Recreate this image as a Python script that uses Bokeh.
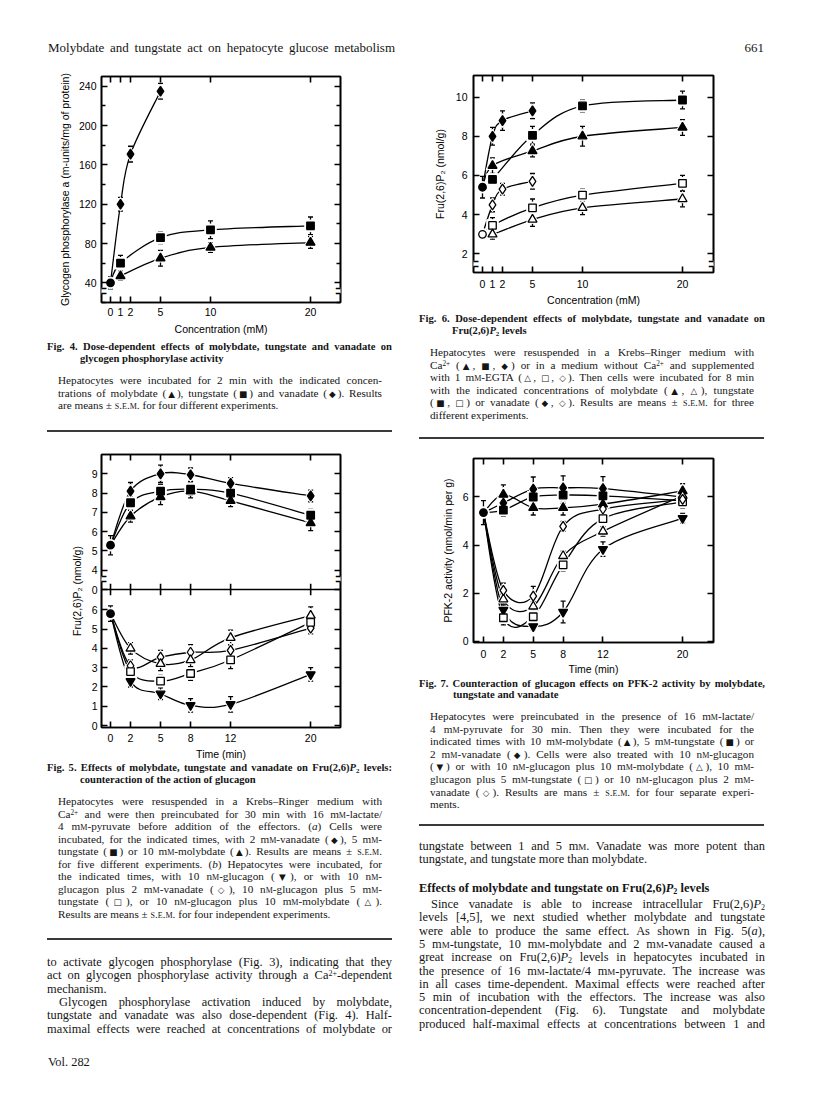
from bokeh.plotting import figure
from bokeh.models import (ColumnDataSource, Whisker, TeeHead, FixedTicker,
                          LinearAxis, Div, Label, Range1d, Span)
from bokeh.layouts import column, row
from bokeh.embed import file_html
from bokeh.resources import INLINE

# ======================= DATA =======================
# Fig. 4  glycogen phosphorylase a (m-units/mg) vs concentration (mM)
fig4_xticks = [0, 1, 2, 5, 10, 20]
fig4_yticks = [40, 80, 120, 160, 200, 240]
fig4_yminor = [20, 60, 100, 140, 180, 220]
fig4_ctrl = 40
fig4_ctrl_err = 6
fig4_van_x = [1, 2, 5]
fig4_van = [120, 171, 235]
fig4_van_err = [7, 8, 8]
fig4_x = [1, 5, 10, 20]
fig4_tung = [60, 86, 94, 98]
fig4_tung_err = [8, 6, 9, 9]
fig4_moly = [47, 65, 76, 81]
fig4_moly_err = [4, 8, 5, 6]

# Fig. 5  Fru(2,6)P2 (nmol/g) vs time (min); (a) upper panel, (b) lower panel
fig5_xticks = [0, 2, 5, 8, 12, 20]
fig5_t = [2, 5, 8, 12, 20]
fig5a_yticks = [3, 4, 5, 6, 7, 8, 9]
fig5a_ytick_labels = ["0", "4", "5", "6", "7", "8", "9"]
fig5a_ctrl = 5.3
fig5a_ctrl_err = 0.5
fig5a_van = [8.1, 9.0, 8.95, 8.5, 7.85]
fig5a_van_err = [0.45, 0.45, 0.35, 0.3, 0.3]
fig5a_tung = [7.5, 8.1, 8.2, 8.0, 6.85]
fig5a_tung_err = [0.3, 0.35, 0.3, 0.3, 0.3]
fig5a_moly = [6.8, 7.8, 8.1, 7.6, 6.45]
fig5a_moly_err = [0.3, 0.4, 0.35, 0.3, 0.4]
fig5b_yticks = [0, 1, 2, 3, 4, 5, 6]
fig5b_ctrl = 5.8
fig5b_ctrl_err = 0.4
fig5b_gluc = [2.3, 1.65, 1.05, 1.1, 2.65]
fig5b_gluc_err = [0.3, 0.3, 0.35, 0.4, 0.35]
fig5b_gvan = [3.1, 3.55, 3.8, 3.9, 5.05]
fig5b_gvan_err = [0.3, 0.35, 0.4, 0.3, 0.3]
fig5b_gtung = [2.8, 2.3, 2.7, 3.4, 5.35]
fig5b_gtung_err = [0.3, 0.3, 0.35, 0.45, 0.35]
fig5b_gmoly = [4.0, 3.2, 3.4, 4.55, 5.7]
fig5b_gmoly_err = [0.3, 0.35, 0.35, 0.4, 0.45]

# Fig. 6  Fru(2,6)P2 (nmol/g) vs concentration (mM)
fig6_xticks = [0, 1, 2, 5, 10, 20]
fig6_yticks = [2, 4, 6, 8, 10]
fig6_ctrl_ca = 5.4
fig6_ctrl_ca_err = 0.55
fig6_ctrl_egta = 3.0
fig6_ctrl_egta_err = 0.2
fig6_van_x = [1, 2, 5]
fig6_x = [1, 5, 10, 20]
fig6_van_ca = [8.0, 8.8, 9.3]
fig6_van_ca_err = [0.45, 0.5, 0.4]
fig6_tung_ca = [5.8, 8.05, 9.55, 9.85]
fig6_tung_ca_err = [0.25, 0.45, 0.3, 0.45]
fig6_moly_ca = [6.5, 7.25, 8.0, 8.45]
fig6_moly_ca_err = [0.4, 0.3, 0.5, 0.4]
fig6_van_egta = [4.5, 5.3, 5.7]
fig6_van_egta_err = [0.35, 0.3, 0.4]
fig6_tung_egta = [3.45, 4.35, 5.0, 5.6]
fig6_tung_egta_err = [0.4, 0.45, 0.3, 0.4]
fig6_moly_egta = [3.0, 3.75, 4.35, 4.8]
fig6_moly_egta_err = [0.25, 0.35, 0.35, 0.4]

# Fig. 7  PFK-2 activity (nmol/min per g) vs time (min)
fig7_xticks = [0, 2, 5, 8, 12, 20]
fig7_yticks = [0, 2, 4, 6]
fig7_t = [2, 5, 8, 12, 20]
fig7_ctrl = 5.35
fig7_ctrl_err = 0.5
fig7_moly = [6.1, 5.55, 5.55, 5.7, 6.25]
fig7_moly_err = [0.4, 0.3, 0.3, 0.3, 0.3]
fig7_tung = [5.45, 6.0, 6.08, 6.05, 5.85]
fig7_tung_err = [0.25, 0.3, 0.35, 0.3, 0.3]
fig7_van = [5.75, 6.33, 6.38, 6.35, 6.0]
fig7_van_err = [0.3, 0.5, 0.5, 0.5, 0.3]
fig7_gluc = [1.3, 0.62, 1.22, 3.83, 5.12]
fig7_gluc_err = [0.2, 0.15, 0.45, 0.3, 0.2]
fig7_gmoly = [1.75, 1.45, 3.55, 4.57, 6.05]
fig7_gmoly_err = [0.2, 0.2, 0.2, 0.2, 0.2]
fig7_gtung = [0.98, 1.02, 3.18, 5.1, 5.8]
fig7_gtung_err = [0.3, 0.15, 0.25, 0.2, 0.2]
fig7_gvan = [2.12, 1.88, 4.78, 5.5, 5.9]
fig7_gvan_err = [0.3, 0.4, 0.2, 0.2, 0.2]

# ======================= HELPERS =======================
AX_FONT = "Liberation Sans"
LW = 1.3
PENDING = {}


def make_fig(w, h, xr, yr, left, right, top, bottom):
    p = figure(width=w, height=h, x_range=Range1d(*xr), y_range=Range1d(*yr),
               output_backend="svg", toolbar_location=None,
               min_border_left=left, min_border_right=right,
               min_border_top=top, min_border_bottom=bottom)
    p.grid.visible = False
    p.outline_line_color = "black"
    p.outline_line_width = 1.6
    p.background_fill_color = "white"
    p.border_fill_color = "white"
    PENDING[id(p)] = []
    return p


def style_axis(ax, ticks, minor=None, labels=True, standoff=5):
    ax.ticker = FixedTicker(ticks=ticks, minor_ticks=minor or [])
    ax.axis_line_color = "black"
    ax.axis_line_width = 1.6
    ax.major_tick_in = 6
    ax.major_tick_out = 0
    ax.major_tick_line_width = 1.6
    ax.minor_tick_in = 4 if minor else 0
    ax.minor_tick_out = 0
    ax.minor_tick_line_width = 1.3
    ax.major_label_text_font = AX_FONT
    ax.major_label_text_font_size = "10.5px"
    if labels:
        ax.major_label_text_color = "black"
        ax.major_label_standoff = standoff
    else:
        ax.major_label_text_color = None
        ax.major_label_standoff = 0
    ax.axis_label_text_font = AX_FONT
    ax.axis_label_text_font_style = "normal"
    ax.axis_label_text_font_size = "10.5px"
    ax.axis_label_text_color = "black"


def frame_axes(p, xticks, yticks, yminor=None, xstand=6, ystand=5,
               xlabel=None, ylabel=None, xlstand=3, ylstand=5):
    bottom = p.below[0]
    left = p.left[0]
    style_axis(bottom, xticks, standoff=xstand)
    style_axis(left, yticks, minor=yminor, standoff=ystand)
    if xlabel:
        bottom.axis_label = xlabel
        bottom.axis_label_standoff = xlstand
    if ylabel:
        left.axis_label = ylabel
        left.axis_label_standoff = ylstand
    ax = LinearAxis()
    style_axis(ax, xticks, labels=False)
    p.add_layout(ax, "above")
    ax = LinearAxis()
    style_axis(ax, yticks, minor=yminor, labels=False)
    p.add_layout(ax, "right")
    return bottom, left


def smooth_line(p, xs, ys, yr="default"):
    n = len(xs)
    d = dict(x0=[], y0=[], x1=[], y1=[], cx0=[], cy0=[], cx1=[], cy1=[])
    for i in range(n - 1):
        a = max(i - 1, 0)
        b = min(i + 2, n - 1)
        d["x0"].append(xs[i]); d["y0"].append(ys[i])
        d["x1"].append(xs[i + 1]); d["y1"].append(ys[i + 1])
        d["cx0"].append(xs[i] + (xs[i + 1] - xs[a]) / 6.0)
        d["cy0"].append(ys[i] + (ys[i + 1] - ys[a]) / 6.0)
        d["cx1"].append(xs[i + 1] - (xs[b] - xs[i]) / 6.0)
        d["cy1"].append(ys[i + 1] - (ys[b] - ys[i]) / 6.0)
    p.bezier(x0="x0", y0="y0", x1="x1", y1="y1", cx0="cx0", cy0="cy0",
             cx1="cx1", cy1="cy1", source=ColumnDataSource(d),
             line_color="black", line_width=LW, level="underlay",
             y_range_name=yr)


def points(p, xs, ys, errs, marker, filled, size, yr="default"):
    src = ColumnDataSource(dict(x=list(xs), y=list(ys),
                                up=[y + e for y, e in zip(ys, errs)],
                                lo=[y - e for y, e in zip(ys, errs)]))
    p.add_layout(Whisker(source=src, base="x", upper="up", lower="lo",
                         dimension="height", line_color="black", line_width=LW,
                         y_range_name=yr,
                         upper_head=TeeHead(size=5, line_width=LW),
                         lower_head=TeeHead(size=5, line_width=LW)))
    PENDING[id(p)].append((src, marker, filled, size, yr))


def finish(p):
    # white halos first (curves stop just short of the symbols), then all symbols
    for src, marker, filled, size, yr in PENDING[id(p)]:
        p.scatter("x", "y", source=src, marker=marker, size=size + 4,
                  fill_color="white", line_color="white", y_range_name=yr)
    for src, marker, filled, size, yr in PENDING[id(p)]:
        p.scatter("x", "y", source=src, marker=marker, size=size,
                  fill_color="black" if filled else "white",
                  line_color="black", line_width=LW, y_range_name=yr)


def series(p, cx, cy, xs, ys, errs, marker, filled, size, yr="default"):
    smooth_line(p, [cx] + list(xs), [cy] + list(ys), yr)
    points(p, xs, ys, errs, marker, filled, size, yr)


def break_mark(p, x, y, yr="default"):
    p.add_layout(Label(x=x, y=y, text="M", text_font_size="5px", y_range_name=yr,
                       text_color="white", background_fill_color="white",
                       text_align="center", text_baseline="middle"))
    p.add_layout(Label(x=x, y=y, text="=", text_font=AX_FONT, y_range_name=yr,
                       text_font_size="20px", text_color="black",
                       text_align="center", text_baseline="middle"))


MS = dict(triangle=9, square=7.5, diamond=10, inverted_triangle=9, circle=7.5)

# ======================= FIG. 4 =======================
p4 = make_fig(400, 273, (-0.9, 23.0), (20, 250), 101, 60, 12, 33)
frame_axes(p4, fig4_xticks, fig4_yticks, yminor=fig4_yminor, xstand=5, ystand=5,
           xlabel="Concentration (mM)", xlstand=4,
           ylabel="Glycogen phosphorylase a (m-units/mg of protein)", ylstand=5)
series(p4, 0, fig4_ctrl, fig4_van_x, fig4_van, fig4_van_err, "diamond", True, MS["diamond"])
series(p4, 0, fig4_ctrl, fig4_x, fig4_tung, fig4_tung_err, "square", True, MS["square"])
series(p4, 0, fig4_ctrl, fig4_x, fig4_moly, fig4_moly_err, "triangle", True, MS["triangle"])
points(p4, [0], [fig4_ctrl], [fig4_ctrl_err], "circle", True, MS["circle"])
finish(p4)
break_mark(p4, -0.9, 32)
break_mark(p4, 23.0, 32)

# ======================= FIG. 5 (two panels sharing one frame) =======================
p5 = make_fig(400, 318, (-0.9, 22.98), (-0.1, 14.05), 101, 59, 10, 31)
p5.extra_y_ranges = {"up": Range1d(-4.15, 10)}
lo_r, up_r = p5.y_range, p5.extra_y_ranges["up"]


def up_pos(u):
    return round(lo_r.start + (u - up_r.start) * (lo_r.end - lo_r.start) / (up_r.end - up_r.start), 4)


fig5_tick_pos = list(fig5b_yticks) + [up_pos(u) for u in fig5a_yticks]
b5, l5 = frame_axes(p5, fig5_xticks, fig5_tick_pos, xstand=6, ystand=4,
                    xlabel="Time (min)", xlstand=3,
                    ylabel="Fru(2,6)P\u2082 (nmol/g)", ylstand=6)
l5.major_label_overrides = {up_pos(u): s for u, s in zip(fig5a_yticks, fig5a_ytick_labels)}
divider = up_pos(fig5a_yticks[0])
p5.add_layout(Span(location=divider, dimension="width", line_color="black", line_width=1.6))
p5.segment(x0=fig5_xticks, x1=fig5_xticks, y0=[divider - 0.3] * len(fig5_xticks),
           y1=[divider + 0.3] * len(fig5_xticks), line_color="black", line_width=1.6)
series(p5, 0, fig5a_ctrl, fig5_t, fig5a_van, fig5a_van_err, "diamond", True, MS["diamond"], "up")
series(p5, 0, fig5a_ctrl, fig5_t, fig5a_tung, fig5a_tung_err, "square", True, MS["square"], "up")
series(p5, 0, fig5a_ctrl, fig5_t, fig5a_moly, fig5a_moly_err, "triangle", True, MS["triangle"], "up")
points(p5, [0], [fig5a_ctrl], [fig5a_ctrl_err], "circle", True, MS["circle"], "up")
series(p5, 0, fig5b_ctrl, fig5_t, fig5b_gluc, fig5b_gluc_err, "inverted_triangle", True, MS["inverted_triangle"])
series(p5, 0, fig5b_ctrl, fig5_t, fig5b_gvan, fig5b_gvan_err, "diamond", False, MS["diamond"])
series(p5, 0, fig5b_ctrl, fig5_t, fig5b_gtung, fig5b_gtung_err, "square", False, MS["square"])
series(p5, 0, fig5b_ctrl, fig5_t, fig5b_gmoly, fig5b_gmoly_err, "triangle", False, MS["triangle"])
points(p5, [0], [fig5b_ctrl], [fig5b_ctrl_err], "circle", True, MS["circle"])
finish(p5)
break_mark(p5, -0.9, 3.55, "up")
break_mark(p5, 22.98, 3.55, "up")

# ======================= FIG. 6 =======================
p6 = make_fig(400, 244, (-0.9, 23.1), (1.05, 11.1), 73, 87, 11, 33)
frame_axes(p6, fig6_xticks, fig6_yticks, xstand=7, ystand=6,
           xlabel="Concentration (mM)", xlstand=3,
           ylabel="Fru(2,6)P\u2082 (nmol/g)", ylstand=7)
series(p6, 0, fig6_ctrl_ca, fig6_van_x, fig6_van_ca, fig6_van_ca_err, "diamond", True, MS["diamond"])
series(p6, 0, fig6_ctrl_ca, fig6_x, fig6_tung_ca, fig6_tung_ca_err, "square", True, MS["square"])
series(p6, 0, fig6_ctrl_ca, fig6_x, fig6_moly_ca, fig6_moly_ca_err, "triangle", True, MS["triangle"])
series(p6, 0, fig6_ctrl_egta, fig6_van_x, fig6_van_egta, fig6_van_egta_err, "diamond", False, MS["diamond"])
series(p6, 0, fig6_ctrl_egta, fig6_x, fig6_tung_egta, fig6_tung_egta_err, "square", False, MS["square"])
series(p6, 0, fig6_ctrl_egta, fig6_x, fig6_moly_egta, fig6_moly_egta_err, "triangle", False, MS["triangle"])
points(p6, [0], [fig6_ctrl_ca], [fig6_ctrl_ca_err], "circle", True, MS["circle"])
points(p6, [0], [fig6_ctrl_egta], [fig6_ctrl_egta_err], "circle", False, MS["circle"])
finish(p6)
break_mark(p6, -0.9, 1.5)
break_mark(p6, 23.1, 1.5)

# ======================= FIG. 7 =======================
p7 = make_fig(400, 230, (-1.0, 23.1), (-0.05, 7.6), 72, 87, 11, 32)
frame_axes(p7, fig7_xticks, fig7_yticks, xstand=7, ystand=5,
           xlabel="Time (min)", xlstand=2,
           ylabel="PFK-2 activity (nmol/min per g)", ylstand=6)
series(p7, 0, fig7_ctrl, fig7_t, fig7_moly, fig7_moly_err, "triangle", True, MS["triangle"])
series(p7, 0, fig7_ctrl, fig7_t, fig7_tung, fig7_tung_err, "square", True, MS["square"])
series(p7, 0, fig7_ctrl, fig7_t, fig7_van, fig7_van_err, "diamond", True, MS["diamond"])
series(p7, 0, fig7_ctrl, fig7_t, fig7_gluc, fig7_gluc_err, "inverted_triangle", True, MS["inverted_triangle"])
series(p7, 0, fig7_ctrl, fig7_t, fig7_gmoly, fig7_gmoly_err, "triangle", False, MS["triangle"])
series(p7, 0, fig7_ctrl, fig7_t, fig7_gtung, fig7_gtung_err, "square", False, MS["square"])
series(p7, 0, fig7_ctrl, fig7_t, fig7_gvan, fig7_gvan_err, "diamond", False, MS["diamond"])
points(p7, [0], [fig7_ctrl], [fig7_ctrl_err], "circle", True, MS["circle"])
finish(p7)

# ======================= TEXT =======================
def SC(s):
    return '<span style="font-variant:small-caps">%s</span>' % s


def SYM(code):
    return ("<span style=\"font-family:'DejaVu Sans';font-size:78%%\">&#%d;</span>" % code)


UP, SQ, DI, DN, OUP, OSQ, ODI = (SYM(9650), SYM(9632), SYM(9670), SYM(9660),
                                 SYM(9651), SYM(9633), SYM(9671))
mM = "m" + SC("m")
nM = "n" + SC("m")
SEM = SC("s.e.m.")
SUP = '<sup style="font-size:65%;line-height:0;vertical-align:0.4em">'
SUB = '<sub style="font-size:65%;line-height:0;vertical-align:-0.25em">'
CA = "Ca" + SUP + "2+</sup>"
FRU = "Fru(2,6)<i>P</i>" + SUB + "2</sub>"


def T(yc, x0, x1, html, size, align="j", bold=False, lh=12, indent=0):
    return ("t", yc, x0, x1, html, size, align, bold, lh, indent)


def HR(y, x0, x1):
    return ("hr", y, x0, x1)


def block(ox, oy, w, h, items):
    out = ['<div style="position:relative;width:%dpx;height:%dpx;'
           "font-family:'Liberation Serif','Times New Roman',serif;color:#151515;\">" % (w, h)]
    for it in items:
        if it[0] == "hr":
            _, y, x0, x1 = it
            out.append('<div style="position:absolute;left:%.1fpx;top:%.1fpx;width:%.1fpx;'
                       'height:1.4px;background:#3a3a3a"></div>' % (x0 - ox, y - oy - 0.7, x1 - x0))
        else:
            _, yc, x0, x1, html, size, align, bold, lh, indent = it
            if align == "j":
                al = "text-align:justify;text-align-last:justify;"
            elif align == "r":
                al = "text-align:right;"
            else:
                al = "text-align:left;"
            out.append('<div style="position:absolute;left:%.1fpx;top:%.1fpx;width:%.1fpx;height:%dpx;'
                       'line-height:%dpx;font-size:%.1fpx;font-weight:%s;white-space:nowrap;%s'
                       'text-indent:%dpx">%s</div>'
                       % (x0 - ox, yc - oy - lh / 2.0, x1 - x0, lh, lh, size,
                          "bold" if bold else "normal", al, indent, html))
    out.append("</div>")
    return Div(text="".join(out), width=w, height=h, margin=(0, 0, 0, 0),
               styles={"overflow": "visible"})


CAPT = 10.6   # caption title size
CAPB = 11.2   # caption body size
BODY = 12.4   # body text size

header = block(8, 8, 800, 64, [
    T(55, 56, 403, "Molybdate and tungstate act on hepatocyte glucose metabolism", 13, "j", lh=15),
    T(55, 700, 772, "661", 13, "r", lh=15),
])

cap4 = block(8, 345, 400, 107, [
    T(355, 55, 400, "Fig. 4. Dose-dependent effects of molybdate, tungstate and vanadate on", CAPT, "j", True),
    T(367, 88, 400, "glycogen phosphorylase activity", CAPT, "l", True),
    T(388, 66, 390, "Hepatocytes were incubated for 2 min with the indicated concen-", CAPB),
    T(400.5, 66, 390, "trations of molybdate (%s), tungstate (%s) and vanadate (%s). Results" % (UP, SQ, DI), CAPB),
    T(413, 66, 390, "are means &#177; %s for four different experiments." % SEM, CAPB, "l"),
    HR(439, 55, 400),
])

cap5_lines = [
    "Hepatocytes were resuspended in a Krebs&#8211;Ringer medium with",
    "%s and were then preincubated for 30 min with 16 %s-lactate/" % (CA, mM),
    "4 %s-pyruvate before addition of the effectors. (<i>a</i>) Cells were" % mM,
    "incubated, for the indicated times, with 2 %s-vanadate (%s), 5 %s-" % (mM, DI, mM),
    "tungstate (%s) or 10 %s-molybdate (%s). Results are means &#177; %s" % (SQ, mM, UP, SEM),
    "for five different experiments. (<i>b</i>) Hepatocytes were incubated, for",
    "the indicated times, with 10 %s-glucagon (%s), or with 10 %s-" % (nM, DN, nM),
    "glucagon plus 2 %s-vanadate (%s), 10 %s-glucagon plus 5 %s-" % (mM, ODI, nM, mM),
    "tungstate (%s), or 10 %s-glucagon plus 10 %s-molybdate (%s)." % (OSQ, nM, mM, OUP),
    "Results are means &#177; %s for four independent experiments." % SEM,
]
left_body = [
    ("to activate glycogen phosphorylase (Fig. 3), indicating that they", "j", 0),
    ("act on glycogen phosphorylase activity through a %s-dependent" % CA, "j", 0),
    ("mechanism.", "l", 0),
    ("Glycogen phosphorylase activation induced by molybdate,", "j", 12),
    ("tungstate and vanadate was also dose-dependent (Fig. 4). Half-", "j", 0),
    ("maximal effects were reached at concentrations of molybdate or", "j", 0),
]
items5 = [
    T(776, 55, 400, "Fig. 5. Effects of molybdate, tungstate and vanadate on %s levels:" % FRU, CAPT, "j", True),
    T(788, 88, 400, "counteraction of the action of glucagon", CAPT, "l", True),
]
for i, s in enumerate(cap5_lines):
    items5.append(T(809 + 12.5 * i, 66, 390, s, CAPB, "l" if i == len(cap5_lines) - 1 else "j"))
items5.append(HR(947, 55, 400))
for i, (s, al, ind) in enumerate(left_body):
    items5.append(T(970 + 13.3 * i, 55, 400, s, BODY, al, lh=14, indent=ind))
items5.append(T(1070, 56, 160, "Vol. 282", BODY, "l", lh=14))
cap5 = block(8, 770, 400, 323, items5)

cap6_lines = [
    "Hepatocytes were resuspended in a Krebs&#8211;Ringer medium with",
    "%s (%s, %s, %s) or in a medium without %s and supplemented" % (CA, UP, SQ, DI, CA),
    "with 1 %s-EGTA (%s, %s, %s). Then cells were incubated for 8 min" % (mM, OUP, OSQ, ODI),
    "with the indicated concentrations of molybdate (%s, %s), tungstate" % (UP, OUP),
    "(%s, %s) or vanadate (%s, %s). Results are means &#177; %s for three" % (SQ, OSQ, DI, ODI, SEM),
    "different experiments.",
]
items6 = [
    T(327, 427, 773, "Fig. 6. Dose-dependent effects of molybdate, tungstate and vanadate on", CAPT, "j", True),
    T(339, 460, 773, "%s levels" % FRU, CAPT, "l", True),
]
for i, s in enumerate(cap6_lines):
    items6.append(T(360 + 12.6 * i, 438, 762, s, CAPB, "l" if i == len(cap6_lines) - 1 else "j"))
items6.append(HR(446, 427, 772))
cap6 = block(408, 316, 400, 139, items6)

cap7_lines = [
    "Hepatocytes were preincubated in the presence of 16 %s-lactate/" % mM,
    "4 %s-pyruvate for 30 min. Then they were incubated for the" % mM,
    "indicated times with 10 %s-molybdate (%s), 5 %s-tungstate (%s) or" % (mM, UP, mM, SQ),
    "2 %s-vanadate (%s). Cells were also treated with 10 %s-glucagon" % (mM, DI, nM),
    "(%s) or with 10 %s-glucagon plus 10 %s-molybdate (%s), 10 %s-" % (DN, nM, mM, OUP, mM),
    "glucagon plus 5 %s-tungstate (%s) or 10 %s-glucagon plus 2 %s-" % (mM, OSQ, nM, mM),
    "vanadate (%s). Results are mans &#177; %s for four separate experi-" % (ODI, SEM),
    "ments.",
]
right_body_top = [
    ("tungstate between 1 and 5 %s. Vanadate was more potent than" % mM, "j", 0),
    ("tungstate, and tungstate more than molybdate.", "l", 0),
]
right_body = [
    ("Since vanadate is able to increase intracellular %s" % FRU, "j", 12),
    ("levels [4,5], we next studied whether molybdate and tungstate", "j", 0),
    ("were able to produce the same effect. As shown in Fig. 5(<i>a</i>),", "j", 0),
    ("5 %s-tungstate, 10 %s-molybdate and 2 %s-vanadate caused a" % (mM, mM, mM), "j", 0),
    ("great increase on %s levels in hepatocytes incubated in" % FRU, "j", 0),
    ("the presence of 16 %s-lactate/4 %s-pyruvate. The increase was" % (mM, mM), "j", 0),
    ("in all cases time-dependent. Maximal effects were reached after", "j", 0),
    ("5 min of incubation with the effectors. The increase was also", "j", 0),
    ("concentration-dependent (Fig. 6). Tungstate and molybdate", "j", 0),
    ("produced half-maximal effects at concentrations between 1 and", "j", 0),
]
items7 = [
    T(692, 427, 773, "Fig. 7. Counteraction of glucagon effects on PFK-2 activity by molybdate,", CAPT, "j", True),
    T(703, 461, 773, "tungstate and vanadate", CAPT, "l", True),
]
for i, s in enumerate(cap7_lines):
    items7.append(T(724 + 12.6 * i, 438, 762, s, CAPB, "l" if i == len(cap7_lines) - 1 else "j"))
items7.append(HR(833, 427, 772))
for i, (s, al, ind) in enumerate(right_body_top):
    items7.append(T(854 + 13.3 * i, 427, 773, s, BODY, al, lh=14, indent=ind))
items7.append(T(896, 427, 773, "Effects of molybdate and tungstate on %s levels" % FRU, BODY, "l", True, lh=14))
for i, (s, al, ind) in enumerate(right_body):
    items7.append(T(912 + 13.3 * i, 427, 773, s, BODY, al, lh=14, indent=ind))
cap7 = block(408, 685, 400, 408, items7)

# ======================= LAYOUT =======================
left_col = column(p4, cap4, p5, cap5, spacing=0)
right_col = column(p6, cap6, p7, cap7, spacing=0)
page = column(header, row(left_col, right_col, spacing=0), spacing=0)

open("out.html", "w").write(file_html(page, INLINE, title="Molybdate and tungstate"))
